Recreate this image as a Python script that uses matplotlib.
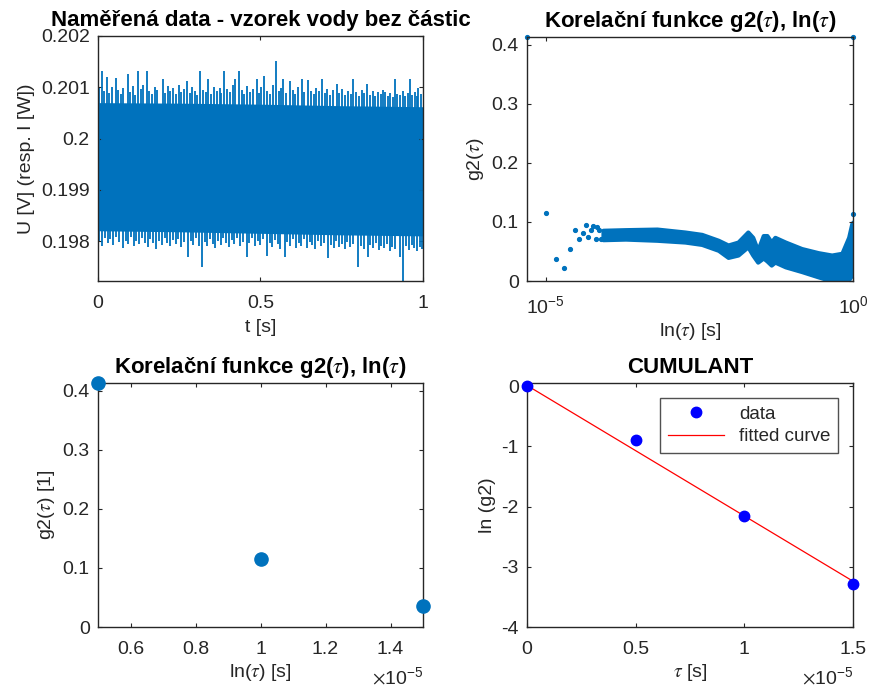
import numpy as np
import matplotlib
matplotlib.use("Agg")
import matplotlib.pyplot as plt

plt.rcParams['font.family'] = ['Liberation Sans', 'DejaVu Sans']
plt.rcParams['mathtext.fontset'] = 'stix'

BLUE = '#0072BD'
AXC = '#262626'
FS = 14

# --- panel 1: measured signal (core band + visible spikes) ---
band_t = [0.0, 0.25, 0.5, 0.75, 1.0]
band_hi = [0.20070, 0.20069, 0.20067, 0.20064, 0.20062]
band_lo = [0.19820, 0.19818, 0.19815, 0.19812, 0.19810]
band_mid = 0.19945

up_t = [0.003, 0.011, 0.019, 0.027, 0.034, 0.043, 0.055, 0.061, 0.070, 0.078,
        0.091, 0.098, 0.107, 0.115, 0.122, 0.131, 0.139, 0.150, 0.158, 0.166,
        0.174, 0.183, 0.199, 0.206, 0.214, 0.223, 0.231, 0.240, 0.248, 0.256,
        0.266, 0.273, 0.282, 0.290, 0.299, 0.306, 0.314, 0.322, 0.331, 0.339,
        0.348, 0.357, 0.365, 0.374, 0.380, 0.388, 0.397, 0.405, 0.414, 0.423,
        0.434, 0.442, 0.450, 0.459, 0.467, 0.476, 0.488, 0.495, 0.503, 0.512,
        0.520, 0.529, 0.538, 0.548, 0.557, 0.563, 0.570, 0.580, 0.591, 0.599,
        0.607, 0.616, 0.627, 0.635, 0.647, 0.655, 0.664, 0.672, 0.680, 0.688,
        0.697, 0.706, 0.715, 0.724, 0.734, 0.742, 0.750, 0.759, 0.768, 0.777,
        0.786, 0.794, 0.803, 0.811, 0.820, 0.827, 0.836, 0.845, 0.853, 0.862,
        0.870, 0.876, 0.883, 0.892, 0.900, 0.907, 0.914, 0.921, 0.930, 0.938,
        0.946, 0.953, 0.960, 0.967, 0.974, 0.981, 0.986, 0.993]
up_v = [0.20098, 0.20132, 0.20092, 0.20120, 0.20088, 0.20101, 0.20118, 0.20094, 0.20086, 0.20098,
        0.20125, 0.20090, 0.20102, 0.20085, 0.20132, 0.20096, 0.20104, 0.20132, 0.20092, 0.20087,
        0.20100, 0.20094, 0.20116, 0.20089, 0.20103, 0.20092, 0.20098, 0.20086, 0.20105, 0.20091,
        0.20097, 0.20112, 0.20088, 0.20100, 0.20093, 0.20085, 0.20132, 0.20095, 0.20090, 0.20116,
        0.20087, 0.20101, 0.20093, 0.20099, 0.20088, 0.20132, 0.20096, 0.20090, 0.20104, 0.20116,
        0.20132, 0.20094, 0.20087, 0.20102, 0.20091, 0.20097, 0.20116, 0.20089, 0.20100, 0.20122,
        0.20092, 0.20086, 0.20104, 0.20152, 0.20093, 0.20099, 0.20116, 0.20088, 0.20112, 0.20095,
        0.20086, 0.20101, 0.20116, 0.20090, 0.20114, 0.20093, 0.20087, 0.20099, 0.20092, 0.20116,
        0.20088, 0.20097, 0.20085, 0.20094, 0.20106, 0.20089, 0.20096, 0.20084, 0.20092, 0.20087,
        0.20116, 0.20090, 0.20083, 0.20095, 0.20088, 0.20106, 0.20085, 0.20093, 0.20082, 0.20090,
        0.20086, 0.20095, 0.20090, 0.20083, 0.20089, 0.20081, 0.20116, 0.20087, 0.20084, 0.20093,
        0.20082, 0.20088, 0.20116, 0.20085, 0.20091, 0.20083, 0.20099, 0.20087]

dn_t = [0.004, 0.013, 0.021, 0.030, 0.038, 0.047, 0.056, 0.065, 0.077, 0.085,
        0.093, 0.101, 0.110, 0.118, 0.127, 0.136, 0.144, 0.153, 0.161, 0.170,
        0.180, 0.188, 0.197, 0.205, 0.213, 0.222, 0.230, 0.239, 0.247, 0.256,
        0.264, 0.277, 0.285, 0.293, 0.301, 0.310, 0.320, 0.328, 0.336, 0.345,
        0.353, 0.360, 0.369, 0.377, 0.386, 0.394, 0.403, 0.411, 0.420, 0.428,
        0.437, 0.445, 0.458, 0.466, 0.474, 0.483, 0.491, 0.500, 0.508, 0.520,
        0.528, 0.536, 0.545, 0.553, 0.561, 0.575, 0.583, 0.592, 0.600, 0.609,
        0.617, 0.626, 0.634, 0.643, 0.651, 0.660, 0.668, 0.677, 0.685, 0.694,
        0.708, 0.716, 0.725, 0.733, 0.742, 0.750, 0.759, 0.767, 0.776, 0.784,
        0.800, 0.808, 0.817, 0.830, 0.838, 0.847, 0.855, 0.864, 0.872, 0.881,
        0.889, 0.898, 0.906, 0.915, 0.930, 0.940, 0.948, 0.956, 0.965, 0.973,
        0.981, 0.990, 0.997]
dn_v = [0.19800, 0.19790, 0.19806, 0.19796, 0.19803, 0.19793, 0.19808, 0.19798, 0.19786, 0.19801,
        0.19795, 0.19807, 0.19790, 0.19800, 0.19794, 0.19805, 0.19797, 0.19789, 0.19803, 0.19796,
        0.19784, 0.19800, 0.19792, 0.19806, 0.19797, 0.19790, 0.19802, 0.19795, 0.19804, 0.19789,
        0.19798, 0.19768, 0.19801, 0.19793, 0.19806, 0.19790, 0.19750, 0.19799, 0.19791, 0.19804,
        0.19795, 0.19786, 0.19800, 0.19792, 0.19805, 0.19796, 0.19788, 0.19802, 0.19794, 0.19806,
        0.19791, 0.19799, 0.19769, 0.19797, 0.19805, 0.19790, 0.19800, 0.19793, 0.19804, 0.19770,
        0.19796, 0.19788, 0.19802, 0.19794, 0.19785, 0.19769, 0.19798, 0.19790, 0.19803, 0.19786,
        0.19797, 0.19791, 0.19804, 0.19787, 0.19799, 0.19793, 0.19784, 0.19801, 0.19790, 0.19796,
        0.19767, 0.19792, 0.19786, 0.19800, 0.19789, 0.19795, 0.19784, 0.19798, 0.19788, 0.19794,
        0.19750, 0.19790, 0.19785, 0.19769, 0.19793, 0.19786, 0.19797, 0.19782, 0.19791, 0.19787,
        0.19795, 0.19781, 0.19789, 0.19784, 0.19768, 0.19722, 0.19790, 0.19783, 0.19792, 0.19786,
        0.19780, 0.19789, 0.19784]

# --- panel 2: g2(tau) on log axis ---
g2_tau = [5e-6, 1e-5, 1.5e-5, 2e-5, 2.5e-5, 3e-5, 3.5e-5, 4e-5, 4.5e-5, 5e-5,
          5.5e-5, 6e-5, 6.5e-5, 7e-5, 7.5e-5, 8e-5, 1.0, 1.0]
g2_val = [0.4135, 0.115, 0.037, 0.022, 0.055, 0.087, 0.072, 0.081, 0.095, 0.074,
          0.087, 0.094, 0.072, 0.091, 0.087, 0.072, 0.4135, 0.114]
cloud_tau = [8.6e-5, 2.0e-4, 6.5e-4, 1.85e-3, 3.47e-3, 6.46e-3, 9.3e-3, 0.0135, 0.0195,
             0.0234, 0.0282, 0.0347, 0.0398, 0.0468, 0.0537, 0.0794, 0.146, 0.272,
             0.45, 0.66, 0.85, 0.955, 1.0]
cloud_hi = [0.086, 0.087, 0.088, 0.083, 0.079, 0.069, 0.061, 0.066, 0.083,
            0.074, 0.052, 0.077, 0.077, 0.066, 0.074, 0.066, 0.055, 0.048,
            0.044, 0.047, 0.074, 0.097, 0.100]
cloud_lo = [0.070, 0.071, 0.069, 0.066, 0.062, 0.052, 0.040, 0.044, 0.058,
            0.044, 0.032, 0.039, 0.034, 0.027, 0.032, 0.024, 0.016, 0.007,
            0.000, 0.000, 0.002, 0.010, 0.020]

# --- panel 3: first three lags ---
lag_tau = [0.5e-5, 1.0e-5, 1.5e-5]
lag_g2 = [0.4135, 0.115, 0.036]
lag_ticks = [0.6e-5, 0.8e-5, 1.0e-5, 1.2e-5, 1.4e-5]
lag_ticklabels = ['0.6', '0.8', '1', '1.2', '1.4']

# --- panel 4: cumulant fit ---
cum_tau = [0.0, 0.5e-5, 1.0e-5, 1.5e-5]
cum_ln = [0.0, -0.90, -2.16, -3.28]
fit_tau = [0.0, 1.5e-5]
fit_ln = [0.01, -3.24]
cum_ticks = [0.0, 0.5e-5, 1.0e-5, 1.5e-5]
cum_ticklabels = ['0', '0.5', '1', '1.5']

fig = plt.figure(figsize=(8.7, 6.95), dpi=100)
W, H = 870, 695


def make_ax(x0, y0, x1, y1):
    return fig.add_axes([x0 / W, 1 - y1 / H, (x1 - x0) / W, (y1 - y0) / H])


def style(ax):
    for s in ax.spines.values():
        s.set_color(AXC)
        s.set_linewidth(1.0)
    ax.tick_params(direction='in', length=3, width=0.8, top=True, right=True,
                   colors=AXC, labelsize=FS)
    ax.tick_params(axis='x', pad=10)
    ax.tick_params(axis='y', pad=6)
    ax.xaxis.label.set_color(AXC)
    ax.yaxis.label.set_color(AXC)


def title(ax, s):
    ax.set_title(s, fontsize=16, fontweight='bold', pad=7, color='black')


ax1 = make_ax(98, 36, 423, 281)
ax2 = make_ax(527, 37, 853, 281)
ax3 = make_ax(98, 383, 423, 627)
ax4 = make_ax(527, 383, 853, 627)

# panel 1
ax1.fill_between(band_t, band_lo, band_hi, color=BLUE, lw=0)
ax1.vlines(up_t, band_mid, up_v, color=BLUE, lw=1.3)
ax1.vlines(dn_t, dn_v, band_mid, color=BLUE, lw=1.3)
ax1.set_xlim(0, 1)
ax1.set_ylim(0.19722, 0.202)
ax1.set_xticks([0, 0.5, 1])
ax1.set_xticklabels(['0', '0.5', '1'])
ax1.set_yticks([0.198, 0.199, 0.2, 0.201, 0.202])
ax1.set_yticklabels(['0.198', '0.199', '0.2', '0.201', '0.202'])
ax1.set_xlabel('t [s]', fontsize=FS, labelpad=5)
ax1.set_ylabel('U [V] (resp. I [W])', fontsize=FS)
title(ax1, 'Naměřená data - vzorek vody bez částic')
style(ax1)

# panel 2
ax2.fill_between(cloud_tau, cloud_lo, cloud_hi, color=BLUE, lw=3.0,
                 edgecolor=BLUE)
ax2.plot(g2_tau, g2_val, '.', color=BLUE, ms=5.5, clip_on=False)
ax2.set_xscale('log')
ax2.set_xlim(5e-6, 1.0)
ax2.set_ylim(0, 0.4135)
ax2.set_xticks([1e-5, 1e0])
ax2.set_xticklabels([r'$\mathdefault{10^{-5}}$', r'$\mathdefault{10^{0}}$'])
ax2.xaxis.set_minor_locator(matplotlib.ticker.NullLocator())
ax2.set_yticks([0, 0.1, 0.2, 0.3, 0.4])
ax2.set_yticklabels(['0', '0.1', '0.2', '0.3', '0.4'])
ax2.set_xlabel(r'ln($\tau$) [s]', fontsize=FS, labelpad=3)
ax2.set_ylabel(r'g2($\tau$)', fontsize=FS)
title(ax2, r'Korelační funkce g2($\tau$), ln($\tau$)')
style(ax2)

# panel 3
ax3.plot(lag_tau, lag_g2, 'o', color=BLUE, ms=9.5, clip_on=False, zorder=5)
ax3.set_xlim(0.5e-5, 1.5e-5)
ax3.set_ylim(0, 0.4135)
ax3.set_xticks(lag_ticks)
ax3.set_xticklabels(lag_ticklabels)
ax3.set_yticks([0, 0.1, 0.2, 0.3, 0.4])
ax3.set_yticklabels(['0', '0.1', '0.2', '0.3', '0.4'])
ax3.set_xlabel(r'ln($\tau$) [s]', fontsize=FS, labelpad=3)
ax3.set_ylabel(r'g2($\tau$) [1]', fontsize=FS)
title(ax3, r'Korelační funkce g2($\tau$), ln($\tau$)')
style(ax3)

# panel 4
ax4.plot(cum_tau, cum_ln, 'o', color='#0000FF', ms=7.5, clip_on=False,
         zorder=5, label='data')
ax4.plot(fit_tau, fit_ln, '-', color='#FF0000', lw=0.9, label='fitted curve')
ax4.set_xlim(0, 1.5e-5)
ax4.set_ylim(-4, 0.05)
ax4.set_xticks(cum_ticks)
ax4.set_xticklabels(cum_ticklabels)
ax4.set_yticks([-4, -3, -2, -1, 0])
ax4.set_yticklabels(['-4', '-3', '-2', '-1', '0'])
ax4.set_xlabel(r'$\tau$ [s]', fontsize=FS, labelpad=3)
ax4.set_ylabel('ln (g2)', fontsize=FS)
title(ax4, 'CUMULANT')
leg = ax4.legend(loc='upper right', fontsize=FS - 0.5, frameon=True,
                 fancybox=False, edgecolor=AXC, borderaxespad=0.8,
                 handlelength=3.0, borderpad=0.4, labelspacing=0.3,
                 handletextpad=0.8)
leg.get_frame().set_linewidth(1.0)
for t in leg.get_texts():
    t.set_color(AXC)
style(ax4)

for ax in (ax3, ax4):
    ax.text(1.0, -0.16, r'$\times\mathdefault{10^{-5}}$', transform=ax.transAxes,
            ha='right', va='top', fontsize=FS, color=AXC)

fig.savefig('out.png', dpi=100)
